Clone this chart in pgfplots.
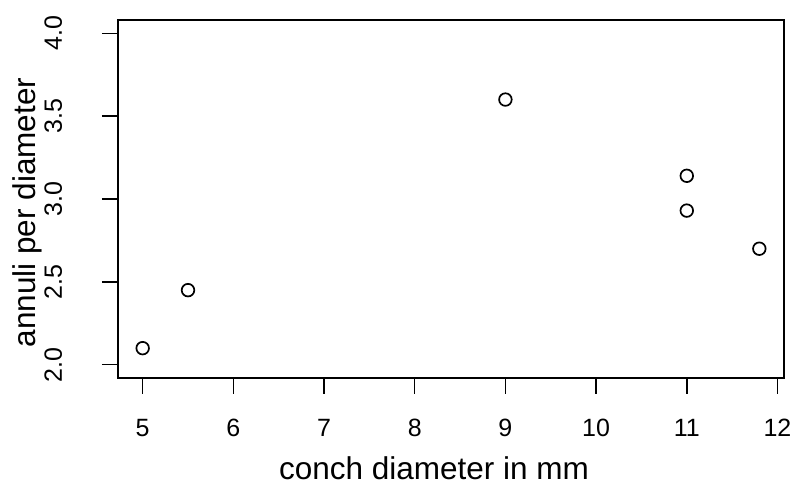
\documentclass[border=0pt]{standalone}
\usepackage{fontspec}
\setmainfont{Liberation Sans}
\usepackage{pgfplots}
\pgfplotsset{compat=1.18}
\begin{document}
\begin{tikzpicture}
\begin{axis}[
  scale only axis, width=666pt, height=358pt,
  xmin=4.728, xmax=12.072, ymin=1.92, ymax=4.08,
  axis line style={line width=1.5pt},
  tick align=outside, xtick pos=bottom, ytick pos=left,
  major tick length=16pt,
  every tick/.style={line width=1.5pt, black},
  xtick={5,6,7,8,9,10,11,12},
  ytick={2,2.5,3,3.5,4},
  /pgf/number format/assume math mode=true,
  tick label style={font=\fontsize{25}{30}\selectfont},
  xticklabel style={anchor=base},
  xticklabel shift=43pt,
  yticklabel style={rotate=90, anchor=base, /pgf/number format/.cd, fixed, fixed zerofill, precision=1},
  yticklabel shift=40pt,
  xlabel={conch diameter in mm},
  ylabel={annuli per diameter},
  label style={font=\fontsize{31.5}{37}\selectfont},
  xlabel style={at={(axis description cs:0.4745,-0.2835)}, anchor=base, text depth=0pt, inner sep=0pt},
  ylabel style={at={(axis description cs:-0.1246,0.4623)}, rotate=0, anchor=base},
  clip=false,
]
\addplot[only marks, mark=o, mark size=6.3pt, mark options={line width=1.7pt, black}] coordinates {
  (5,2.10) (5.5,2.45) (9,3.60) (11,3.14) (11,2.93) (11.8,2.70)
};
\end{axis}
\pgfresetboundingbox
\path[use as bounding box] (-118pt,-108pt) rectangle (675pt,378pt);
\end{tikzpicture}
\end{document}
